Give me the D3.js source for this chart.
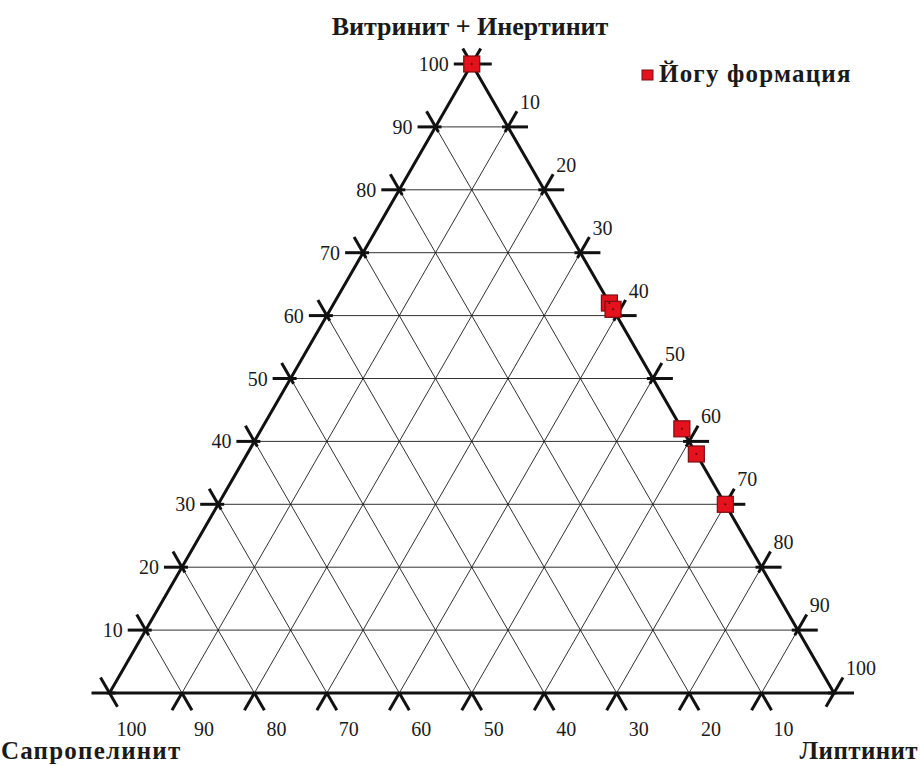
<!DOCTYPE html>
<html>
<head>
<meta charset="utf-8">
<script src="https://cdn.jsdelivr.net/npm/d3@7"></script>
<style>
  body { margin: 0; background: #fff; }
  svg { display: block; }
</style>
</head>
<body>
<svg id="chart" width="921" height="766"></svg>
<script>
// ---- data ----
var seriesName = "Йогу формация";
var vitInert = [100, 62, 61, 42, 38, 30];   // Витринит + Инертинит, %
var liptinit = [0, 38, 39, 58, 62, 70];     // Липтинит, %
var sapropel = [0, 0, 0, 0, 0, 0];          // Сапропелинит, %
var tickValues = [0, 10, 20, 30, 40, 50, 60, 70, 80, 90, 100];
var titleTop = "Витринит + Инертинит";
var titleLeft = "Сапропелинит";
var titleRight = "Липтинит";

var svg = d3.select("#chart");

// triangle corners
var xLeft = 109.5, xRight = 834, yBase = 693, yApex = 64;
var xs = d3.scaleLinear().domain([0, 100]).range([xLeft, xRight]);
var ys = d3.scaleLinear().domain([0, 100]).range([yBase, yApex]);

// (top, lip) -> screen point
function pt(top, lip) {
  return [xs(lip + top / 2), ys(top)];
}
function unit(a, b) {
  var dx = b[0] - a[0], dy = b[1] - a[1], l = Math.sqrt(dx * dx + dy * dy);
  return [dx / l, dy / l];
}
var A = pt(100, 0), BL = pt(0, 0), BR = pt(0, 100);
var upLeft = unit(BR, A), upRight = unit(BL, A);
var downLeft = unit(A, BL), downRight = unit(A, BR);

var line = d3.line();
var inner = [10, 20, 30, 40, 50, 60, 70, 80, 90];

// ---- thin grid ----
var grid = svg.append("g").attr("stroke", "#1a1a1a").attr("stroke-width", 0.9).attr("fill", "none");
inner.forEach(function(k) {
  grid.append("path").attr("d", line([pt(k, 0), pt(k, 100 - k)]));       // horizontal
  grid.append("path").attr("d", line([pt(0, k), pt(100 - k, k)]));       // lip const
  grid.append("path").attr("d", line([pt(0, 100 - k), pt(100 - k, 0)])); // sap const
});

// ---- ticks ----
var ticks = svg.append("g").attr("stroke", "#111").attr("stroke-width", 3).attr("fill", "none");
var tOut = 18, tIn = 6;
function seg(p, dir, a, b) {
  return line([[p[0] - dir[0] * a, p[1] - dir[1] * a], [p[0] + dir[0] * b, p[1] + dir[1] * b]]);
}
tickValues.forEach(function(v) {
  // left edge (top axis)
  var pl = pt(v, 0);
  ticks.append("path").attr("d", seg(pl, [-1, 0], tIn, tOut));
  ticks.append("path").attr("d", seg(pl, upLeft, v === 0 ? 16 : tIn, tOut));
  // right edge (liptinit axis)
  var pr = pt(v, 100 - v);
  ticks.append("path").attr("d", seg(pr, [1, 0], tIn, tOut + 2));
  ticks.append("path").attr("d", seg(pr, upRight, v === 0 ? 16 : tIn, tOut));
  // base (sapropelinit axis)
  if (v > 0 && v < 100) {
    var pb = pt(0, v);
    ticks.append("path").attr("d", seg(pb, downLeft, 0, tOut + 2));
    ticks.append("path").attr("d", seg(pb, downRight, 0, tOut + 2));
  }
});

// ---- triangle edges ----
svg.append("path")
  .attr("d", line([A, BL, BR]) + "Z")
  .attr("fill", "none")
  .attr("stroke", "#111")
  .attr("stroke-width", 3)
  .attr("stroke-linejoin", "miter");

// ---- tick labels ----
var labels = svg.append("g")
  .style("font-family", "Liberation Serif, Times New Roman, serif")
  .style("font-size", "20px")
  .attr("fill", "#1a1a1a");
tickValues.filter(function(v) { return v > 0; }).forEach(function(v) {
  var pl = pt(v, 0);
  labels.append("text")
    .attr("x", pl[0] - 23).attr("y", pl[1] + 7)
    .attr("text-anchor", "end")
    .text(v);
  var pr = pt(100 - v, v);
  labels.append("text")
    .attr("x", pr[0] + 12).attr("y", pr[1] - 18)
    .text(v);
  var pb = pt(0, 100 - v);
  labels.append("text")
    .attr("x", pb[0] + 22).attr("y", 736)
    .attr("text-anchor", "middle")
    .text(v);
});

// ---- axis titles ----
var titles = svg.append("g")
  .style("font-family", "Liberation Serif, Times New Roman, serif")
  .style("font-size", "25px")
  .style("font-weight", "bold")
  .attr("fill", "#1a1a1a");
titles.append("text").attr("x", 470).attr("y", 35).attr("text-anchor", "middle")
  .style("font-size", "26px").text(titleTop);
titles.append("text").attr("x", 1).attr("y", 759).style("letter-spacing", "1.2px").text(titleLeft);
titles.append("text").attr("x", 918).attr("y", 759).attr("text-anchor", "end")
  .style("letter-spacing", "0.4px").text(titleRight);

// ---- data points ----
var pts = vitInert.map(function(v, i) {
  return { top: v, lip: liptinit[i], sap: sapropel[i] };
});
var size = 16;
var marks = svg.append("g");
marks.selectAll("rect").data(pts).enter().append("rect")
  .attr("x", function(d) { return pt(d.top, d.lip)[0] - size / 2; })
  .attr("y", function(d) { return pt(d.top, d.lip)[1] - size / 2; })
  .attr("width", size).attr("height", size)
  .attr("fill", "#e3121d")
  .attr("stroke", "#7c0d10")
  .attr("stroke-width", 1.2);
marks.selectAll("circle").data(pts).enter().append("circle")
  .attr("cx", function(d) { return pt(d.top, d.lip)[0]; })
  .attr("cy", function(d) { return pt(d.top, d.lip)[1]; })
  .attr("r", 1)
  .attr("fill", "#5a0a0a");

// ---- legend ----
svg.append("rect")
  .attr("x", 642).attr("y", 70).attr("width", 11).attr("height", 10)
  .attr("fill", "#e3121d").attr("stroke", "#7c0d10").attr("stroke-width", 1);
svg.append("text")
  .attr("x", 659).attr("y", 82)
  .style("font-family", "Liberation Serif, Times New Roman, serif")
  .style("font-size", "25px")
  .style("font-weight", "bold")
  .style("letter-spacing", "1.2px")
  .attr("fill", "#1a1a1a")
  .text(seriesName);
</script>
</body>
</html>
